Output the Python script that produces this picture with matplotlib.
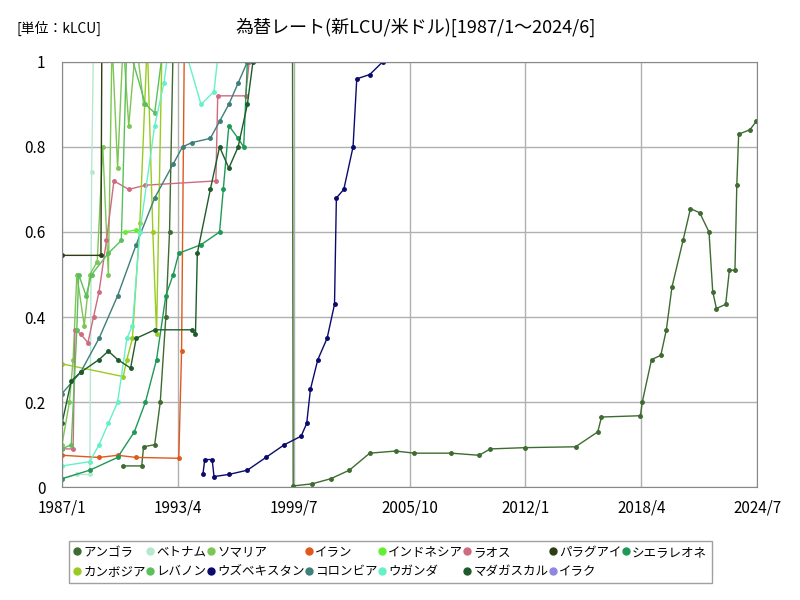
import numpy as np
import matplotlib.pyplot as plt

plt.rcParams["font.family"] = ["Noto Sans CJK JP", "DejaVu Sans"]

# 値 (年, kLCU) — 図から読み取り
angola_t = [1990.3, 1991.3, 1991.4, 1992.0, 1992.3, 1992.6, 1992.8, 1993.0, np.nan, 1999.4, 1999.47, 2000.5, 2001.5, 2002.5, 2003.6, 2005.0,
            2006.0, 2008.0, 2009.5, 2010.1, 2012.0, 2014.7, 2015.9, 2016.1, 2018.2, 2018.3, 2018.8, 2019.3, 2019.6,
            2019.9, 2020.5, 2020.9, 2021.4, 2021.9, 2022.1, 2022.3, 2022.8, 2023.0, 2023.3, 2023.4, 2023.5, 2024.1, 2024.45]
angola_v = [0.05, 0.05, 0.095, 0.1, 0.2, 0.4, 0.6, 1.05, np.nan, 2.0, 0.003, 0.008, 0.02, 0.04, 0.08, 0.085,
            0.08, 0.08, 0.075, 0.09, 0.093, 0.095, 0.13, 0.165, 0.168, 0.2, 0.3, 0.31, 0.37,
            0.47, 0.58, 0.655, 0.645, 0.6, 0.46, 0.42, 0.43, 0.51, 0.51, 0.71, 0.83, 0.84, 0.86]
vietnam_t = [1987.0, 1987.8, 1988.5, 1988.6, 1988.7]
vietnam_v = [0.02, 0.03, 0.03, 0.74, 1.05]
somalia_t = [1987.0, 1987.4, 1987.6, 1987.8, 1988.2, 1988.5, 1988.9, 1989.2, 1989.5, 1989.7, 1990.0, 1990.3, 1990.6, 1991.0, 1991.4]
somalia_v = [0.1, 0.2, 0.3, 0.5, 0.38, 0.5, 0.53, 0.8, 0.5, 1.05, 0.75, 1.05, 0.85, 1.05, 0.9]
iran_t = [1987.0, 1989.0, 1990.0, 1991.0, 1993.3, 1993.45, 1993.6]
iran_v = [0.075, 0.07, 0.075, 0.07, 0.068, 0.32, 1.05]
indonesia_t = [1990.4, 1991.0]
indonesia_v = [0.6, 0.605]
laos_t = [1987.0, 1987.6, 1987.7, 1988.0, 1988.4, 1988.7, 1989.0, 1989.4, 1989.8, 1990.6, 1991.5, 1995.3, 1995.4, 1996.9, 1997.1]
laos_v = [0.09, 0.09, 0.37, 0.36, 0.34, 0.4, 0.46, 0.58, 0.72, 0.7, 0.71, 0.72, 0.92, 0.92, 1.0]
paraguay_t = [1987.0, 1989.1, 1989.15]
paraguay_v = [0.545, 0.545, 1.05]
sierra_t = [1987.0, 1988.5, 1990.0, 1990.9, 1991.5, 1992.1, 1992.6, 1993.0, 1993.3, 1994.5, 1995.5, 1995.7, 1996.0, 1996.5, 1996.8, 1997.0]
sierra_v = [0.02, 0.04, 0.07, 0.13, 0.2, 0.3, 0.45, 0.5, 0.55, 0.57, 0.6, 0.7, 0.85, 0.82, 0.8, 1.0]
cambodia_t = [1987.0, 1990.3, 1990.5, 1990.8, 1991.2, 1991.6, 1991.9, 1992.1, 1992.4]
cambodia_v = [0.29, 0.26, 0.3, 0.35, 0.62, 1.05, 0.6, 0.36, 1.05]
lebanon_t = [1987.0, 1987.5, 1987.8, 1987.9, 1988.3, 1988.6, 1989.5, 1990.2, 1990.5, 1991.5, 1992.0, 1992.5]
lebanon_v = [0.09, 0.1, 0.37, 0.5, 0.45, 0.5, 0.55, 0.58, 1.05, 0.9, 0.88, 1.05]
uzbek_t = [1994.6, 1994.7, 1995.1, 1995.2, 1996.0, 1997.0, 1998.0, 1999.0, 1999.9, 2000.2, 2000.4, 2000.8, 2001.3, 2001.7,
           2001.8, 2002.2, 2002.7, 2002.9, 2003.6, 2004.3]
uzbek_v = [0.03, 0.065, 0.065, 0.025, 0.03, 0.04, 0.07, 0.1, 0.12, 0.15, 0.23, 0.3, 0.35, 0.43,
           0.68, 0.7, 0.8, 0.96, 0.97, 1.0]
colombia_t = [1987.0, 1988.0, 1989.0, 1990.0, 1991.0, 1992.0, 1993.0, 1993.5, 1994.0, 1995.0, 1995.5, 1996.0, 1996.5, 1997.0]
colombia_v = [0.22, 0.27, 0.35, 0.45, 0.57, 0.68, 0.76, 0.8, 0.81, 0.82, 0.86, 0.9, 0.95, 1.0]
uganda_t = [1987.0, 1988.5, 1989.0, 1989.5, 1990.0, 1990.5, 1990.8, 1991.2, 1992.0, 1992.5, 1992.8, 1993.5, 1994.5, 1995.2, 1995.5]
uganda_v = [0.05, 0.06, 0.1, 0.15, 0.2, 0.35, 0.38, 0.6, 0.85, 0.95, 1.05, 1.05, 0.9, 0.93, 1.05]
madagascar_t = [1987.0, 1987.5, 1988.0, 1989.0, 1989.5, 1990.0, 1990.7, 1991.0, 1992.0, 1994.0, 1994.2, 1994.3, 1995.0,
                1995.5, 1996.0, 1996.5, 1997.0, 1997.3]
madagascar_v = [0.15, 0.25, 0.27, 0.3, 0.32, 0.3, 0.28, 0.35, 0.37, 0.37, 0.36, 0.55, 0.7, 0.8, 0.75, 0.8, 0.9, 1.0]
iraq_t = []
iraq_v = []

series = [
    ("アンゴラ", angola_t, angola_v, "#3d6b30"),
    ("ベトナム", vietnam_t, vietnam_v, "#b5e8cf"),
    ("ソマリア", somalia_t, somalia_v, "#7cc655"),
    ("イラン", iran_t, iran_v, "#e0581a"),
    ("インドネシア", indonesia_t, indonesia_v, "#66ee33"),
    ("ラオス", laos_t, laos_v, "#d06a80"),
    ("パラグアイ", paraguay_t, paraguay_v, "#2e3d14"),
    ("シエラレオネ", sierra_t, sierra_v, "#1e9955"),
    ("カンボジア", cambodia_t, cambodia_v, "#99cc22"),
    ("レバノン", lebanon_t, lebanon_v, "#5cbf5c"),
    ("ウズベキスタン", uzbek_t, uzbek_v, "#0a0a6e"),
    ("コロンビア", colombia_t, colombia_v, "#3d7f7a"),
    ("ウガンダ", uganda_t, uganda_v, "#66f0c8"),
    ("マダガスカル", madagascar_t, madagascar_v, "#1d5c2a"),
    ("イラク", iraq_t, iraq_v, "#8f86e0"),
]

xticks = [1987.0, 1993.25, 1999.5, 2005.75, 2012.0, 2018.25, 2024.5]
xlabels = ["1987/1", "1993/4", "1999/7", "2005/10", "2012/1", "2018/4", "2024/7"]

fig = plt.figure(figsize=(8, 6), dpi=100)
ax = fig.add_axes([0.0775, 0.188, 0.869, 0.709])
handles = []
for name, t, v, c in series:
    h, = ax.plot(t, v, "-o", color=c, lw=1, ms=2.5, label=name)
    handles.append(h)

ax.set_xlim(1987.0, 2024.5)
ax.set_ylim(0, 1)
ax.set_xticks(xticks)
ax.set_xticklabels(xlabels, fontsize=11)
ax.set_yticks(np.arange(0, 1.01, 0.2))
ax.set_yticklabels(["0", "0.2", "0.4", "0.6", "0.8", "1"], fontsize=11)
ax.grid(True, color="#b0b0b0", lw=1)
ax.tick_params(axis="x", length=0, pad=9)
ax.tick_params(axis="y", length=0, pad=12)
for s in ax.spines.values():
    s.set_color("#888888")

fig.text(0.02, 0.945, "[単位：kLCU]", fontsize=10)
fig.text(0.52, 0.945, "為替レート(新LCU/米ドル)[1987/1～2024/6]", fontsize=13, ha="center")

# 行優先で並べる
order = []
for j in range(8):
    order.append(j)
    if j + 8 < len(handles):
        order.append(j + 8)
leg = fig.legend([handles[i] for i in order], [series[i][0] for i in order],
                 loc="lower left", bbox_to_anchor=(0.078, 0.018, 0.82, 0.08), ncol=8, mode="expand",
                 fontsize=9, frameon=True, fancybox=False, edgecolor="#888888", handlelength=0.6,
                 handletextpad=0.2, columnspacing=0.5, markerscale=2)
for h in leg.legend_handles:
    h.set_linestyle("")

fig.savefig("out.png")
